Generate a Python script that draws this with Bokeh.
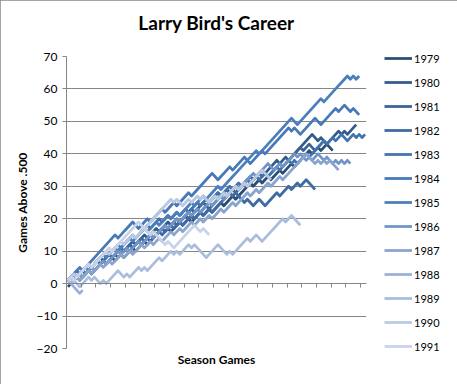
from bokeh.plotting import figure
from bokeh.models import Range1d, LinearAxis, FixedTicker, Legend, LegendItem, ColumnDataSource
from bokeh.embed import file_html
from bokeh.resources import INLINE

# Games above .500 after each game (regular season + playoffs)
s1979 = [-1,0,1,2,1,2,3,4,3,4, 5,6,7,6,7,8,7,8,9,8, 9,10,11,10,11,12,13,12,13,14,
         15,16,17,16,17,16,17,18,19,18, 19,20,19,20,21,22,21,22,23,22,
         23,24,25,24,25,26,27,26,27,28, 29,30,31,30,31,32,31,32,33,32,
         33,34,35,34,35,36,37,36,37,38, 39,40,41,40,41,42,41,42,43,42,41]
s1980 = [1,0,1,2,3,4,3,4,5,6, 7,8,7,8,9,8,9,10,11,10, 11,12,13,12,13,14,15,14,15,16,
         17,16,17,18,19,18,19,20,19,20, 21,22,23,22,23,24,25,24,25,26,
         27,28,27,28,29,28,29,30,29,30, 31,32,33,32,33,34,35,34,35,36,
         37,38,37,38,39,38,39, 40,41,42,43,44,45,46,
         45,44,45,44,43,44,45,46,47,46,47,46,47,48,49]
s1981 = [1,2,1,2,3,2,3,4,3,4, 5,6,7,6,7,8,9,8,9,10, 11,12,11,12,13,12,13,14,13,14,
         15,16,17,16,17,18,19,18,19,20, 21,20,21,22,23,22,23,24,23,24,
         25,26,27,26,27,28,29,28,29,30, 31,32,31,32,33,34,33,34,33,34,
         35,36,37,36,37,38,39,40, 41,42,41,42,43, 42,41,42,43,44,43]
s1982 = [1,2,3,2,3,4,3,4,5,6, 7,6,7,8,9,8,9,10,11,10, 11,12,11,12,13,14,13,14,15,14,
         15,16,15,16,17,18,17,18,19,18, 19,20,21,20,21,22,21,22,23,22,
         23,24,25,26,27,28, 27,28,27,26, 25,26,25,24, 25,26,25,24, 25,26,27,28,
         27,28,29,30,29,30,31,30,31,32,31,30,29]
s1983 = [1,2,3,4,3,4,5,6,5,6, 7,8,9,10,9,10,11,12,11,12, 13,14,15,14,15,16,17,18,17,18,
         19,20,19,20,21,20,21,22,21,22, 23,22,23,24,25,24,25,26,25,26,
         27,28,27,28,29,30,29,30,31,30, 31,32,31,32,33,32,33,34,33,34,
         35,36,35,36,37,38,37,38,37,38, 39,40,39,40,41, 42,43,44,43,44,45,
         44,45,46,45,44,45,46,45,46,45,46]
s1984 = [1,2,3,4,5,4,5,6,7,8, 9,10,11,12,13, 14,15,14,15,16,17, 18,19,18,17,18, 19,20,19,20,
         21,22,23,22,23,24,25,24,25,26, 27,28,27,28,29, 30,31,32,33,34, 33,32,33,
         34,35,36,35,36,37,38,39, 38,37, 38,39,40,41,40,41,42, 43,44,45,46,47,48,
         47,48,47,46,47,48,49,50,51,50,49, 50,51,52,53,54, 53,54,55,54,53,54,53,52]
s1985 = [1,2,3,2,3,4,5,4,5,6, 7,8,9,8,9,10,11,10,11,12, 13,14,13,14,15,16,17,16,17,18,
         19,18,19,20,21,20,21,22,21,22, 23,24,25,24,25,26,27,26,27,28,
         29,30,29,30,31, 32,33,34,35,36,37,38,39,40,41,40,41,42,43,44,45,46,47,48,49,50,51,
         50,49,50, 51,52,53,54,55,56,57, 56,57, 58,59,60,61,62,63,64, 63,64,63,64]
s1986 = [1,0,1,2,3,2,3,4,5,4, 5,6,7,6,7,8,9,10,9,10, 11,10,11,12,13,12,13,14,15,14,
         15,16,17,18,17,18,19,20,19,20, 21,22,21,22,23,22,23,24,25,24,
         25,26,27,26,27,28,29,30,29,30, 31,32,33,34,33,34,35,36,37,
         36,35,36,37,36,37,38, 39,40,39,40,
         39,38,39,38,39,40,39,38,39,38,37,38,37,38,37,38,37]
s1987 = [1,2,3,2,1,2,3,4,3,4, 5,6,5,6,7,6,7,8,9,8, 9,10,9,10,11,12,11,12,13,12,
         13,14,13,14,15,16,15,16,17,16, 17,18,19,18,19,20,19,20,21,20,
         21,22,23,22,23,24,25,24,25,26, 27,28,27,28,29,28,29,30,31,30,
         31,32,33,32,33,34, 35,36,37,38,39,40, 39,38,37,38,37,38,37,38,37,36,35]
s1988 = [1,0,-1,-2,-3,-2]
s1989 = [1,0,1,0,-1,0,1,2,1,2,1,0,1,0,1,2,3,4,3,2, 3,2,3,4,5,4,5,4,5,6,
         7,8,7,8,9,10,9,10,9,10, 11,12,11,12,11,10,9,8,9,10,
         11,12,11,10,9,10,9,10,11,12, 13,14,13,14,15,14,13,14,15,16,
         17,18,19,20,19,20,21,20,19,18]
s1990 = [1,2,3,2,3,4,5,6,5,6, 7,8,9,10,9,10,11,12,13,12, 13,14,15,14,15,16,17,18,19,20,
         21,22,23,24,25,26,25,26,25,24, 25,26,25,26,27,26,27,26,25,26,
         27,26,27,28,27,28,29,30,29,30, 31,30,31,32,33,34,35,34,33,32]
s1991 = [1,2,1,2,3,4,5,6,5,6, 7,8,9,10,11,10,11,12,13,14, 15,16,17,18,19,
         18,17,16,15,16,15,14,13,12,13,12,11, 12,13,14,15,16,17,18, 17,16,17,16,15]

seasons = ["1979", "1980", "1981", "1982", "1983", "1984", "1985",
           "1986", "1987", "1988", "1989", "1990", "1991"]
series = [s1979, s1980, s1981, s1982, s1983, s1984, s1985,
          s1986, s1987, s1988, s1989, s1990, s1991]
colors = ["#2C4D75", "#335A88", "#3A6496", "#3E6BA3", "#4372AD", "#4778B7", "#4A7EBD",
          "#7094C7", "#88A4CF", "#9AB0D6", "#ABBDDD", "#BAC8E2", "#C9D3E8"]
y_ticks = [-20, -10, 0, 10, 20, 30, 40, 50, 60, 70]
n_games = 102
x_ticks = [k + 0.5 for k in range(0, 101, 5)]

GRAY = "#868686"
FONT = "Lato"

p = figure(frame_width=300, frame_height=292, output_backend="svg", toolbar_location=None,
           x_range=Range1d(0.5, n_games + 0.5), y_range=Range1d(-20, 70),
           min_border_left=66, min_border_right=90, min_border_top=56, min_border_bottom=36,
           background_fill_color="white", border_fill_color="white",
           styles={"outline": "1px solid #868686", "outline-offset": "-1px"})
p.outline_line_color = None

p.title.text = "Larry Bird's Career\n"
p.title.align = "center"
p.title.vertical_align = "bottom"
p.title.offset = -9
p.title.standoff = 0
p.title.text_font = FONT
p.title.text_font_style = "bold"
p.title.text_font_size = "19px"
p.title.text_color = "#000000"

# y axis
ya = p.yaxis[0]
ya.ticker = FixedTicker(ticks=y_ticks)
ya.axis_line_color = GRAY
ya.major_tick_line_color = GRAY
ya.major_tick_out = 4
ya.major_tick_in = 0
ya.minor_tick_line_color = None
ya.major_label_text_font = FONT
ya.major_label_text_font_size = "12px"
ya.major_label_text_color = "#000000"
ya.major_label_standoff = 5
ya.axis_label = "Games Above .500"
ya.axis_label_text_font = FONT
ya.axis_label_text_font_style = "bold"
ya.axis_label_text_font_size = "12px"
ya.axis_label_text_color = "#000000"
ya.axis_label_standoff = 4

p.ygrid.ticker = FixedTicker(ticks=y_ticks)
p.ygrid.grid_line_color = GRAY
p.xgrid.visible = False

# x axis drawn at y = 0, ticks every 5 games, no labels
xa = p.xaxis[0]
xa.fixed_location = 0
xa.ticker = FixedTicker(ticks=x_ticks)
xa.axis_line_color = GRAY
xa.major_tick_line_color = GRAY
xa.major_tick_out = 4
xa.major_tick_in = 0
xa.minor_tick_line_color = None
xa.major_label_text_font_size = "1px"
xa.major_label_text_color = None
xa.major_label_standoff = 0

la = LinearAxis(axis_label="Season Games", ticker=FixedTicker(ticks=[]),
                axis_line_color=None, major_tick_line_color=None, minor_tick_line_color=None,
                major_tick_out=0, major_label_standoff=0,
                axis_label_standoff=3, axis_label_text_font=FONT,
                axis_label_text_font_style="bold", axis_label_text_font_size="12px",
                axis_label_text_color="#000000")
p.add_layout(la, "below")

items = []
for name, vals, col in zip(seasons, series, colors):
    src = ColumnDataSource(dict(game=list(range(1, len(vals) + 1)), above=vals))
    r = p.line("game", "above", source=src, line_color=col, line_width=2.75, line_join="round")
    items.append(LegendItem(label=name, renderers=[r]))

legend = Legend(items=items, location=(18, -8), ncols=1, glyph_width=28, glyph_height=20,
                label_height=20, spacing=4, padding=0, margin=0, label_standoff=2,
                label_text_font=FONT, label_text_font_size="11px", label_text_color="#000000",
                border_line_color=None, background_fill_alpha=0)
p.add_layout(legend, "right")

open("out.html", "w").write(file_html(p, INLINE))
